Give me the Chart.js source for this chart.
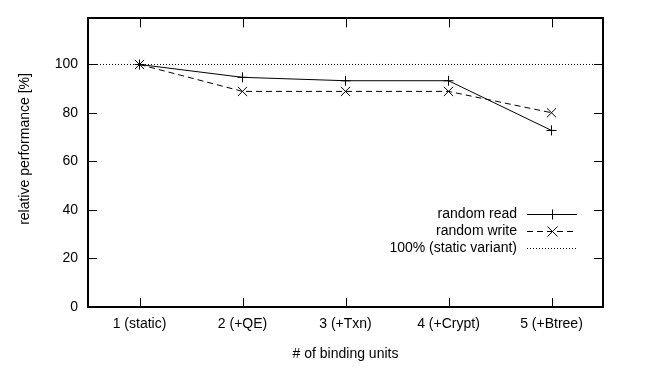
<!DOCTYPE html>
<html>
<head>
<meta charset="utf-8">
<script src="https://cdn.jsdelivr.net/npm/chart.js@4/dist/chart.umd.min.js"></script>
<style>
html,body{margin:0;padding:0;background:#fff;}
#wrap{width:654px;height:368px;position:relative;}
</style>
</head>
<body>
<div id="wrap"><canvas id="c" width="654" height="368"></canvas></div>
<script>
const categories = ["1 (static)", "2 (+QE)", "3 (+Txn)", "4 (+Crypt)", "5 (+Btree)"];
const readValues = [100, 94.7, 93.3, 93.3, 72.8];
const writeValues = [100, 88.9, 88.9, 88.9, 80.1];
const baselineValue = 100;
const yTicks = [0, 20, 40, 60, 80, 100];
const seriesNames = ["random read", "random write", "100% (static variant)"];
const xTitle = "# of binding units";
const yTitle = "relative performance [%]";

const FONT = "'Liberation Sans', Arial, sans-serif";
const FSIZE = 14;

const frameAndTicks = {
  id: 'frameAndTicks',
  afterDatasetsDraw(chart) {
    const {ctx, chartArea: a, scales} = chart;
    const L = 9;
    ctx.save();
    ctx.strokeStyle = '#000';
    ctx.lineWidth = 1;
    ctx.setLineDash([]);
    ctx.beginPath();
    scales.x.ticks.forEach(t => {
      const px = Math.round(scales.x.getPixelForValue(t.value)) + 0.5;
      ctx.moveTo(px, a.bottom); ctx.lineTo(px, a.bottom - L);
      ctx.moveTo(px, a.top); ctx.lineTo(px, a.top + L);
    });
    scales.y.ticks.forEach(t => {
      const py = Math.round(scales.y.getPixelForValue(t.value)) + 0.5;
      ctx.moveTo(a.left, py); ctx.lineTo(a.left + L, py);
      ctx.moveTo(a.right, py); ctx.lineTo(a.right - L, py);
    });
    ctx.stroke();
    ctx.lineWidth = 2;
    ctx.strokeRect(Math.round(a.left), Math.round(a.top),
      Math.round(a.right - a.left), Math.round(a.bottom - a.top));
    ctx.restore();
  },
  afterDraw(chart) {
    const {ctx} = chart;
    const textRight = 517, x0 = 527, x1 = 577;
    const rows = [214, 231, 248];
    ctx.save();
    ctx.font = FSIZE + "px " + FONT;
    ctx.fillStyle = '#000';
    ctx.textBaseline = 'middle';
    // y-axis title
    ctx.save();
    ctx.translate(25, 149);
    ctx.rotate(-Math.PI / 2);
    ctx.textAlign = 'center';
    ctx.fillText(yTitle, 0, 0);
    ctx.restore();
    ctx.textAlign = 'right';
    chart.data.datasets.forEach((ds, i) => {
      const y = rows[i] + 0.5;
      ctx.fillText(ds.label, textRight, rows[i]);
      ctx.strokeStyle = '#000';
      ctx.lineWidth = 1;
      ctx.setLineDash(ds.borderDash || []);
      ctx.beginPath();
      ctx.moveTo(x0, y); ctx.lineTo(x1, y);
      ctx.stroke();
      ctx.setLineDash([]);
      const cx = Math.round((x0 + x1) / 2) + 0.5;
      if (ds.pointStyle === 'cross') {
        ctx.beginPath();
        ctx.moveTo(cx, y - 5); ctx.lineTo(cx, y + 5);
        ctx.stroke();
      } else if (ds.pointStyle === 'crossRot') {
        ctx.beginPath();
        ctx.moveTo(cx - 5, y - 5); ctx.lineTo(cx + 5, y + 5);
        ctx.moveTo(cx - 5, y + 5); ctx.lineTo(cx + 5, y - 5);
        ctx.stroke();
      }
    });
    ctx.restore();
  }
};

new Chart(document.getElementById('c'), {
  type: 'line',
  data: {
    datasets: [
      {
        label: seriesNames[0],
        data: readValues.map((v, i) => ({x: i + 1, y: v})),
        borderColor: '#000', backgroundColor: '#000', borderWidth: 1,
        pointStyle: 'cross', pointRadius: 5, pointBorderWidth: 1,
        pointBorderColor: '#000', tension: 0, fill: false
      },
      {
        label: seriesNames[1],
        data: writeValues.map((v, i) => ({x: i + 1, y: v})),
        borderColor: '#000', backgroundColor: '#000', borderWidth: 1,
        borderDash: [6, 4],
        pointStyle: 'crossRot', pointRadius: 6.5, pointBorderWidth: 1,
        pointBorderColor: '#000', tension: 0, fill: false
      },
      {
        label: seriesNames[2],
        data: [{x: 0.5, y: baselineValue}, {x: categories.length + 0.5, y: baselineValue}],
        borderColor: '#000', borderWidth: 1, borderDash: [1, 2],
        pointRadius: 0, fill: false
      }
    ]
  },
  options: {
    responsive: false,
    animation: false,
    devicePixelRatio: 1,
    layout: {padding: {top: 8, right: 51, left: 0, bottom: 0}},
    plugins: {legend: {display: false}, tooltip: {enabled: false}},
    scales: {
      x: {
        type: 'linear',
        min: 0.5, max: categories.length + 0.5,
        grid: {display: false, drawTicks: false},
        border: {display: false},
        afterBuildTicks: s => { s.ticks = categories.map((c, i) => ({value: i + 1})); },
        afterFit: s => { s.height = 61; },
        ticks: {
          color: '#000', padding: 9, maxRotation: 0, autoSkip: false,
          font: {family: FONT, size: FSIZE},
          callback: v => categories[Math.round(v) - 1]
        },
        title: {display: true, text: xTitle, color: '#000',
          font: {family: FONT, size: FSIZE}, padding: {top: 0, bottom: 5}}
      },
      y: {
        min: 0, max: 119,
        grid: {display: false, drawTicks: false},
        border: {display: false},
        afterBuildTicks: s => { s.ticks = yTicks.map(v => ({value: v})); },
        afterFit: s => { s.width = 88; },
        ticks: {color: '#000', padding: 10, font: {family: FONT, size: FSIZE}},
        title: {display: false}
      }
    }
  },
  plugins: [frameAndTicks]
});
</script>
</body>
</html>
